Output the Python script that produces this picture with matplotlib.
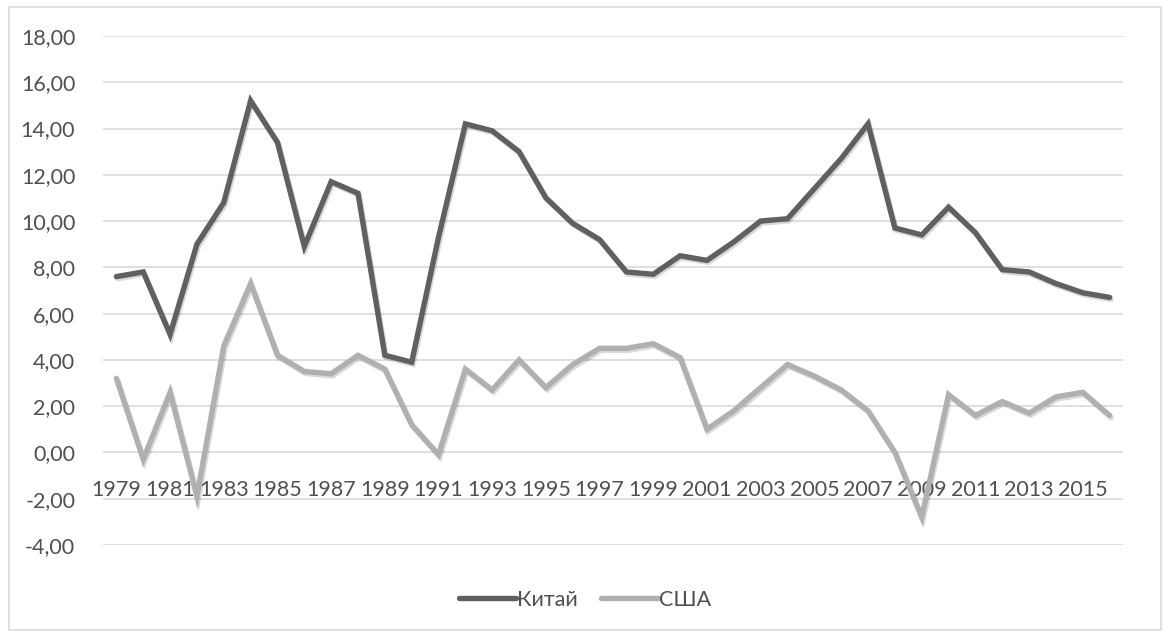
import matplotlib
matplotlib.use("Agg")
import matplotlib.pyplot as plt
import matplotlib.patheffects as pe
from matplotlib.patches import Rectangle

plt.rcParams['font.family'] = ['Lato', 'DejaVu Sans']

# data
years = list(range(1979, 2017))
china = [7.6, 7.8, 5.1, 9.0, 10.8, 15.2, 13.4, 8.9, 11.7, 11.2,
         4.2, 3.9, 9.3, 14.2, 13.9, 13.0, 11.0, 9.9, 9.2, 7.8,
         7.7, 8.5, 8.3, 9.1, 10.0, 10.1, 11.4, 12.7, 14.2, 9.7,
         9.4, 10.6, 9.5, 7.9, 7.8, 7.3, 6.9, 6.7]
usa = [3.2, -0.3, 2.6, -1.9, 4.6, 7.3, 4.2, 3.5, 3.4, 4.2,
       3.6, 1.2, -0.1, 3.6, 2.7, 4.0, 2.8, 3.8, 4.5, 4.5,
       4.7, 4.1, 1.0, 1.8, 2.8, 3.8, 3.3, 2.7, 1.8, 0.0,
       -2.8, 2.5, 1.6, 2.2, 1.7, 2.4, 2.6, 1.6]
y_ticks = [-4, -2, 0, 2, 4, 6, 8, 10, 12, 14, 16, 18]
series_names = ['Китай', 'США']

text_col = '#505050'
grid_col = '#d9d9d9'
fs = 15.5

fig = plt.figure(figsize=(11.65, 6.31), dpi=100)
ax = fig.add_axes([0.0884, 0.1363, 0.8756, 0.8067])

x = list(range(len(years)))
shadow = [pe.SimpleLineShadow(offset=(1.0, -1.5), alpha=0.15, shadow_color='black'), pe.Normal()]
ax.plot(x, china, color='#606060', lw=3.9, label=series_names[0],
        solid_joinstyle='miter', solid_capstyle='round', zorder=3, path_effects=shadow)
ax.plot(x, usa, color='#b0b0b0', lw=3.9, label=series_names[1],
        solid_joinstyle='miter', solid_capstyle='round', zorder=3, path_effects=shadow)

ax.set_xlim(-0.5, len(years) - 0.5)
ax.set_ylim(-4, 18)
ax.set_yticks(y_ticks)
ax.set_yticklabels([f"{v:.2f}".replace('.', ',') for v in y_ticks])
ax.set_xticks(x[::2])
ax.set_xticklabels([str(y) for y in years[::2]])

ax.grid(axis='y', color=grid_col, lw=1.2)
ax.set_axisbelow(True)
for s in ax.spines.values():
    s.set_visible(False)
ax.spines['bottom'].set_position(('data', 0))
ax.tick_params(axis='both', length=0, labelsize=fs, colors=text_col)
ax.tick_params(axis='x', pad=20)
ax.tick_params(axis='y', pad=20)

# legend centred on the whole chart area, not the plot
leg = fig.legend(loc='center', bbox_to_anchor=(585 / 1165, 1 - 600 / 631), ncol=2, frameon=False,
                 fontsize=fs, handlelength=2.65, handletextpad=0.05, columnspacing=1.1)
for t in leg.get_texts():
    t.set_color(text_col)
for h in leg.get_lines():
    h.set_path_effects([])

# chart area border
fig.patches.append(Rectangle((9 / 1165, 1 / 631), 1152 / 1165, 623 / 631,
                             transform=fig.transFigure, fill=False,
                             edgecolor=grid_col, lw=1.2))

fig.savefig('out.png', dpi=100, facecolor='white')
